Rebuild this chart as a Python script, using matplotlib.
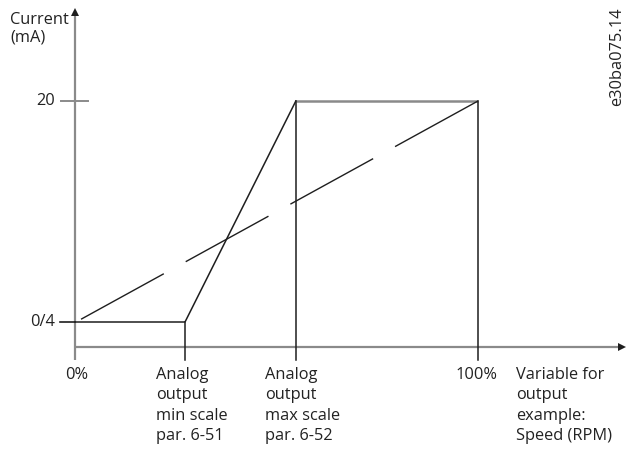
import matplotlib
matplotlib.use("Agg")
import matplotlib.pyplot as plt

plt.rcParams['font.family'] = ['Open Sans', 'DejaVu Sans']

# ---- data (x in % of variable, y in mA) ----
min_scale = 27.3          # analog output min scale position (%)
max_scale = 54.8          # analog output max scale position (%)
low_mA = 4
high_mA = 20

solid_x = [0, min_scale, max_scale, 100]
solid_y = [low_mA, low_mA, high_mA, high_mA]
dashed_x = [1.5, 100]
dashed_y = [4.2, 20]

ytick_vals = [low_mA, high_mA]
ytick_labels = ["0/4", "20"]
xtick_vals = [0, min_scale, max_scale, 100]
xtick_labels = ["0%", "Analog\noutput\nmin scale\npar. 6-51",
                "Analog\noutput\nmax scale\npar. 6-52", "100%"]
x_axis_label = "Variable for\noutput\nexample:\nSpeed (RPM)"
y_axis_label = "Current\n(mA)"
code_label = "e30ba075.14"

# ---- pixel calibration of the drawing ----
W, H = 628, 450
px_x0, px_x100 = 75, 478
py_4, py_20 = 322, 101
sx = (px_x100 - px_x0) / 100.0
sy = (py_4 - py_20) / 16.0

def dx(px):
    return (px - px_x0) / sx

def dy(py):
    return 4 + (py_4 - py) / sy

fig = plt.figure(figsize=(W / 100, H / 100), dpi=100)
ax = fig.add_axes([0, 0, 1, 1])
ax.set_xlim(dx(0), dx(W))
ax.set_ylim(dy(H), dy(0))
ax.axis('off')

gray = '#8a8a8a'
black = '#1e1e1e'
tcol = '#222222'
fs = 11.8

x_axis_y = dy(347)
tick_bottom = dy(360)
y_top = dy(13)
x_right = dx(620)

# axes
ax.plot([0, 0], [tick_bottom, y_top], color=gray, lw=1.6, solid_capstyle='butt')
ax.plot([0, x_right], [x_axis_y, x_axis_y], color=gray, lw=1.6, solid_capstyle='butt')
ax.plot([0], [dy(12)], marker='^', color=black, ms=6, markeredgewidth=0)
ax.plot([dx(622)], [x_axis_y], marker='>', color=black, ms=6, markeredgewidth=0)

# y ticks
ax.plot([dx(61), dx(88)], [high_mA, high_mA], color=gray, lw=1.4)
ax.plot([dx(60), 0], [low_mA, low_mA], color=black, lw=1.2)

# solid characteristic
ax.plot(solid_x[:3], solid_y[:3], color=black, lw=1.1)
ax.plot(solid_x[2:], solid_y[2:], color=gray, lw=1.8, solid_capstyle='butt')

# vertical drop lines
ax.plot([min_scale, min_scale], [low_mA, tick_bottom], color=black, lw=1.1)
ax.plot([max_scale, max_scale], [high_mA, tick_bottom], color=black, lw=1.1)
ax.plot([100, 100], [high_mA, tick_bottom], color=black, lw=1.1)

# dashed linear reference
ln, = ax.plot(dashed_x, dashed_y, color=black, lw=1.0)
ln.set_dashes([68, 18])

# tick labels
for v, lab in zip(ytick_vals, ytick_labels):
    ax.text(dx(55), v, lab, ha='right', va='center', fontsize=fs, color=tcol)

label_top = dy(367)
ls = 1.37
ax.text(dx(77), label_top, xtick_labels[0], ha='center', va='top',
        fontsize=fs, color=tcol, linespacing=ls)
ax.text(dx(156), label_top, xtick_labels[1], ha='left', va='top',
        fontsize=fs, color=tcol, linespacing=ls)
ax.text(dx(265), label_top, xtick_labels[2], ha='left', va='top',
        fontsize=fs, color=tcol, linespacing=ls)
ax.text(dx(476), label_top, xtick_labels[3], ha='center', va='top',
        fontsize=fs, color=tcol, linespacing=ls)
ax.text(dx(516), label_top, x_axis_label, ha='left', va='top',
        fontsize=fs, color=tcol, linespacing=ls)
ax.text(dx(10), dy(12), y_axis_label, ha='left', va='top',
        fontsize=fs, color=tcol, linespacing=1.1)

fig.text(617 / W, 1 - 57 / H, code_label, rotation=90, ha='center', va='center',
         fontsize=fs, color=tcol)

fig.savefig('out.png', dpi=100)
